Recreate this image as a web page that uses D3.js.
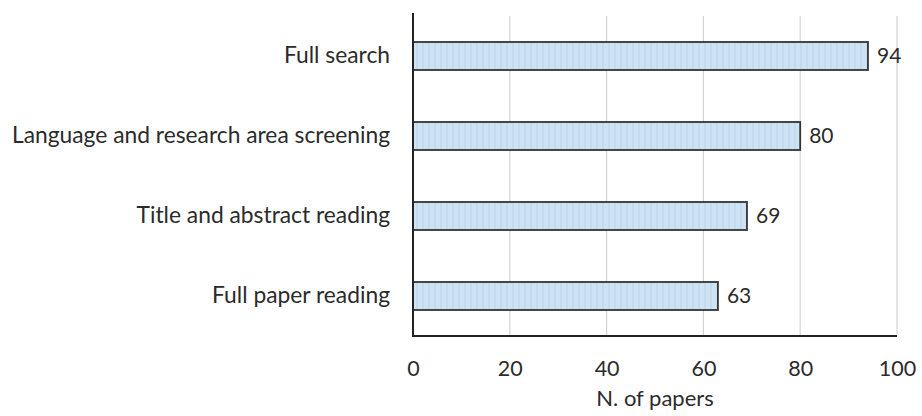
<!DOCTYPE html>
<html><head><meta charset="utf-8">
<script src="https://cdn.jsdelivr.net/npm/d3@7"></script>
<style>body{margin:0;background:#fff;} text{font-family:Lato,sans-serif;fill:#2b2b2b;}</style>
</head><body>
<svg id="c" width="922" height="416"></svg>
<script>
const categories = ["Full search","Language and research area screening","Title and abstract reading","Full paper reading"];
const values = [94,80,69,63];
const ticks = [0,20,40,60,80,100];
const axisTitle = "N. of papers";

const svg = d3.select("#c");
const m = {left:413, right:25, top:16, bottom:80};
const W = 922, H = 416;
const FS = 22;
const x = d3.scaleLinear().domain([0,100]).range([m.left, 897]);
const y = d3.scaleBand().domain(categories).range([m.top, H-m.bottom]).paddingInner(0.65).paddingOuter(0.325);

const defs = svg.append("defs");
const pat = defs.append("pattern").attr("id","hatch").attr("patternUnits","userSpaceOnUse").attr("width",6).attr("height",6);
pat.append("rect").attr("width",6).attr("height",6).attr("fill","#cde3f3");
pat.append("line").attr("x1",3).attr("x2",3).attr("y1",0).attr("y2",6).attr("stroke","#b9d3e8").attr("stroke-width",1);

// gridlines
svg.append("g").selectAll("line").data(ticks.slice(1)).join("line")
  .attr("x1",d=>x(d)).attr("x2",d=>x(d)).attr("y1",m.top).attr("y2",H-m.bottom)
  .attr("stroke","#d4d4d4").attr("stroke-width",1.2);

// bars
svg.append("g").selectAll("rect").data(categories).join("rect")
  .attr("x",x(0)).attr("y",d=>y(d)).attr("width",(d,i)=>x(values[i])-x(0)).attr("height",y.bandwidth())
  .attr("fill","url(#hatch)").attr("stroke","#333").attr("stroke-width",1.8);

// value labels
svg.append("g").selectAll("text").data(categories).join("text")
  .attr("x",(d,i)=>x(values[i])+9).attr("y",d=>y(d)+y.bandwidth()/2).attr("dy","0.35em")
  .attr("font-size",21).text((d,i)=>values[i]);

// axes
const xa = svg.append("g").attr("transform",`translate(0,${H-m.bottom})`)
  .call(d3.axisBottom(x).tickValues(ticks).tickSize(0).tickPadding(25));
xa.select(".domain").remove();
xa.selectAll("text").attr("font-size",21.5).style("font-family","Lato").attr("fill","#2b2b2b");

const ya = svg.append("g").attr("transform",`translate(${m.left},0)`)
  .call(d3.axisLeft(y).tickSize(0).tickPadding(23));
ya.select(".domain").remove();
ya.selectAll("text").attr("font-size",22.8).style("font-family","Lato").attr("fill","#2b2b2b");

svg.append("line").attr("x1",x(0)).attr("x2",x(0)).attr("y1",m.top-3).attr("y2",H-m.bottom+1).attr("stroke","#222").attr("stroke-width",2);
svg.append("line").attr("x1",x(0)).attr("x2",x(100)).attr("y1",H-m.bottom).attr("y2",H-m.bottom).attr("stroke","#222").attr("stroke-width",2);

svg.append("text").attr("x",(x(0)+x(100))/2).attr("y",406).attr("text-anchor","middle").attr("font-size",FS).text(axisTitle);
</script>
</body></html>
